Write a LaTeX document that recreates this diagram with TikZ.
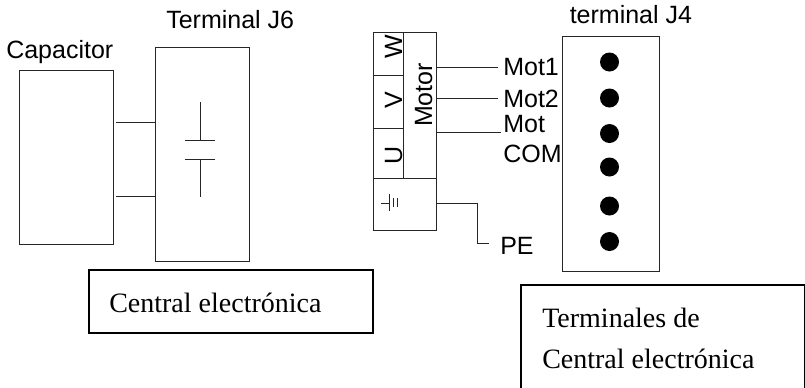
\documentclass[tikz,border=0pt]{standalone}
\usepackage{fontspec}
\setmainfont{Liberation Serif}
\newfontfamily\arialfont{Liberation Sans}
\begin{document}
\begin{tikzpicture}[x=0.75pt,y=-0.75pt,
  bx/.style n args={2}{draw=black!85,line width=0.75pt,rectangle,inner sep=0pt,outer sep=0pt,anchor=north west,minimum width=#1*0.75pt,minimum height=#2*0.75pt},
  heavybox/.style n args={2}{draw=black,line width=1.5pt,rectangle,inner sep=0pt,outer sep=0pt,anchor=north west,minimum width=#1*0.75pt,minimum height=#2*0.75pt},
  wire/.style={draw=black!85,line width=0.75pt},
  sans/.style={font=\arialfont\fontsize{18.75}{20}\selectfont,inner sep=0pt,anchor=base west},
  sansrot/.style={font=\arialfont\fontsize{18.75}{20}\selectfont,inner sep=0pt,anchor=base,rotate=90},
  serif/.style={font=\fontsize{21}{24}\selectfont,inner sep=0pt,anchor=base west},
  dot/.style={circle,fill=black,inner sep=0pt,minimum size=14.25pt}]
\useasboundingbox (0,0) rectangle (805,387);
\clip (0,0) rectangle (805,387);
% boxes
\node[bx={94}{174}] (capbox) at (19.5,70.5) {};
\node[bx={94}{214}] (j6box) at (155.5,47.5) {};
\node[bx={97}{235}] (j4box) at (562.5,36.5) {};
\node[heavybox={284}{63}] (centralbox) at (89,270) {};
\node[heavybox={284}{107}] (termbox) at (521,285) {};
% motor block
\node[bx={63}{198}] (motorbox) at (373.5,32.5) {};
\node[bx={30}{43}] (wcell) at (373.5,32.5) {};
\node[bx={30}{53}] (vcell) at (373.5,75.5) {};
\node[bx={30}{50}] (ucell) at (373.5,128.5) {};
\node[bx={63}{52}] (gndcell) at (373.5,178.5) {};
% labels
\node[sans] (tj6) at (166,28) {Terminal J6};
\node[sans] (tcap) at (6,58) {Capacitor};
\node[sans] (tj4) at (569.5,23) {terminal J4};
\node[sans] (mot1) at (503,75) {Mot1};
\node[sans] (mot2) at (503,107) {Mot2};
\node[sans] (mot3) at (503,132) {Mot};
\node[sans] (com) at (503,162) {COM};
\node[sans] (pe) at (500,254) {PE};
\node[sansrot] (tw) at (402,47) {W};
\node[sansrot] (tv) at (402,100) {V};
\node[sansrot] (tu) at (402,155) {U};
\node[sansrot] (tmotor) at (432,95) {Motor};
\node[serif] (tcentral) at (109,312) {Central electrónica};
\node[serif] (tterm) at (542,327) {Terminales de};
\node[serif] (tterm2) at (542,368) {Central electrónica};
% dots
\foreach \n/\yy in {a/62,b/98,c/133.5,d/167,e/206,f/241.5}
  \node[dot] (dot\n) at (609.5,\yy) {};
% connection points
\coordinate (c1) at (135,122.5);
\coordinate (c2) at (135,196.5);
\coordinate (m1) at (498,67.5);
\coordinate (m2) at (498,98.5);
\coordinate (m3) at (501,132.5);
\coordinate (pa) at (477.5,203.5);
\coordinate (pb) at (477.5,243.5);
\coordinate (pc) at (489,243.5);
% wires
\draw[wire,shorten <=1.5pt] (capbox.east |- c1) -- (j6box.west |- c1);
\draw[wire,shorten <=1.5pt] (capbox.east |- c2) -- (j6box.west |- c2);
\draw[wire] (motorbox.east |- m1) -- (m1);
\draw[wire] (motorbox.east |- m2) -- (m2);
\draw[wire] (motorbox.east |- m3) -- (m3);
\draw[wire] (motorbox.east |- pa) -- (pa) -- (pb) -- (pc);
% capacitor symbol
\coordinate (capt) at (200.5,102);
\coordinate (capu) at (200.5,140);
\coordinate (capl) at (200.5,159);
\coordinate (capb) at (200.5,197);
\draw[wire] (capt) -- (capu);
\draw[wire] (capl) -- (capb);
\draw[wire] (185,140.5) -- (215,140.5);
\draw[wire] (185,159.5) -- (215,159.5);
% ground symbol
\draw[wire] (381,203.5) -- (389,203.5);
\draw[wire] (389.5,194) -- (389.5,211);
\draw[wire] (393.5,198) -- (393.5,207);
\draw[wire] (397.5,198) -- (397.5,207);
\end{tikzpicture}
\end{document}
